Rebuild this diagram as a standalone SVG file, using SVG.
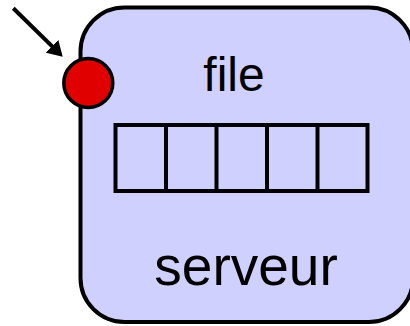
<svg xmlns="http://www.w3.org/2000/svg" width="410" height="326" viewBox="0 0 410 326">
  <style>
    .outline { stroke: #000; stroke-width: 4; }
    .label { font-family: "Liberation Sans", Arial, sans-serif; fill: #000; text-anchor: middle; }
    .cell { fill: none; stroke: #000; stroke-width: 4; }
  </style>
  <defs>
    <marker id="arrowhead" viewBox="0 0 15 18" refX="1" refY="9" markerWidth="15" markerHeight="18" markerUnits="userSpaceOnUse" orient="auto">
      <path d="M0,0 L15,9 L0,18 z" fill="#000"/>
    </marker>
  </defs>
  <g id="serveur">
    <rect x="80.5" y="7.5" width="332.5" height="314.5" rx="44" ry="44" fill="#d0d0ff" class="outline"/>
    <text x="246" y="285" class="label" font-size="55">serveur</text>
  </g>
  <g id="file">
    <text x="234" y="91" class="label" font-size="48">file</text>
    <rect x="115.5" y="125" width="252" height="66" class="cell"/>
    <line x1="166" y1="125" x2="166" y2="191" class="cell"/>
    <line x1="216.5" y1="125" x2="216.5" y2="191" class="cell"/>
    <line x1="267" y1="125" x2="267" y2="191" class="cell"/>
    <line x1="317.5" y1="125" x2="317.5" y2="191" class="cell"/>
  </g>
  <g id="port">
    <circle cx="88.3" cy="83" r="24.5" fill="#e00000" stroke="#000" stroke-width="3.5"/>
  </g>
  <g id="connectors">
    <line x1="13.3" y1="8.3" x2="52.7" y2="46.9" stroke="#000" stroke-width="4" marker-end="url(#arrowhead)"/>
  </g>
</svg>
